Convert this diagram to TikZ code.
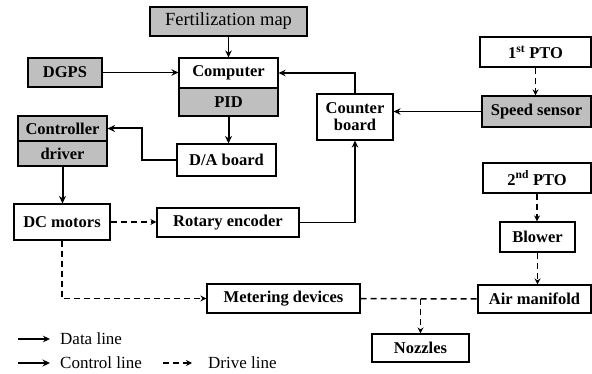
\documentclass[tikz,border=0pt]{standalone}
\usepackage{fontspec}
\setmainfont{Liberation Serif}
\usetikzlibrary{arrows.meta}
\tikzset{
	box/.style={draw, line width=1.1pt, inner sep=0pt, font=\fontsize{16.5}{17}\selectfont\bfseries, align=center},
	greybox/.style={box, fill=black!25},
	dataline/.style={line width=1.1pt, -{Stealth[length=7pt,width=6.5pt]}},
	ctrlline/.style={line width=2pt, -{Stealth[length=7.5pt,width=7pt]}},
	driveline/.style={line width=1.5pt, dash pattern=on 6pt off 4pt, -{Stealth[length=6pt,width=6pt]}},
	legtext/.style={font=\fontsize{17}{19}\selectfont, anchor=west, inner sep=0pt}
}

\begin{document}
\begin{tikzpicture}[x=1pt, y=-1pt]
		%%%%% START %%%%%
		\useasboundingbox (0, 0) rectangle (592, 374);
		
		\node[greybox, font=\fontsize{18.5}{20}\selectfont, minimum width=157pt, minimum height=29pt] (fert) at (228.5, 21.5) {Fertilization map};
		\node[box, minimum width=99pt, minimum height=30pt] (comp) at (228.5, 73) {Computer};
		\node[greybox, minimum width=99pt, minimum height=28pt] (pid) at (228.5, 102) {PID};
		\node[greybox, minimum width=74pt, minimum height=29pt] (dgps) at (65, 72.5) {DGPS};
		\node[greybox, minimum width=89pt, minimum height=25pt] (ctrl) at (62.5, 128.5) {Controller};
		\node[greybox, minimum width=89pt, minimum height=25pt] (driver) at (62.5, 153.5) {driver};
		\node[box, minimum width=99pt, minimum height=32pt] (da) at (226.5, 160) {D/A board};
		\node[box, minimum width=76pt, minimum height=46pt] (counter) at (355, 117) {Counter\\board};
		
		\node[box, minimum width=111pt, minimum height=30pt] (pto1) at (535.5, 52) {1\textsuperscript{st} PTO};
		\node[greybox, minimum width=109pt, minimum height=31pt] (speed) at (536.5, 111.5) {Speed sensor};
		\node[box, minimum width=108pt, minimum height=30pt] (pto2) at (537, 178) {2\textsuperscript{nd} PTO};
		\node[box, minimum width=75pt, minimum height=30pt] (blower) at (537.5, 237) {Blower};
		\node[box, minimum width=113pt, minimum height=28pt] (air) at (534.5, 299) {Air manifold};
		\node[box, minimum width=97pt, minimum height=28pt] (nozzles) at (420.5, 348) {Nozzles};
		
		\node[box, minimum width=96pt, minimum height=36pt] (dc) at (62, 222) {DC motors};
		\node[box, minimum width=142pt, minimum height=29pt] (rotary) at (228, 222.5) {Rotary encoder};
		\node[box, minimum width=153pt, minimum height=29pt] (meter) at (283.5, 298.5) {Metering devices};
		
		% data lines
		\draw[dataline] (fert.south) -- (comp.north);
		\draw[dataline] (dgps.east) -- (dgps.east -| comp.west);
		\draw[dataline] (counter.north) |- (comp.east);
		\draw[dataline] (speed.west) -- (speed.west -| counter.east);
		\draw[dataline] (rotary.east) -| (counter.south);
		
		% control lines
		\draw[ctrlline] (pid.south) -- (pid.south |- da.north);
		\draw[ctrlline] (da.west) -- ++(-34, 0) |- (ctrl.east);
		\draw[ctrlline] (driver.south) -- (driver.south |- dc.north);
		
		% drive lines
		\draw[driveline] (pto1.south) -- (pto1.south |- speed.north);
		\draw[driveline] (pto2.south) -- (pto2.south |- blower.north);
		\draw[driveline] (blower.south) -- (blower.south |- air.north);
		\draw[driveline] (dc.east) -- (dc.east -| rotary.west);
		\draw[driveline] (dc.south) |- (meter.west);
		\coordinate (split) at (nozzles.north |- air.west);
		\draw[driveline, -] (meter.east) -- (air.west);
		\draw[driveline] (split) -- (nozzles.north);
		
		% legend
		\coordinate (dataa) at (18, 339);
		\coordinate (datab) at (50, 339);
		\coordinate (ctrla) at (18, 363);
		\coordinate (ctrlb) at (50, 363);
		\coordinate (drivea) at (163, 363);
		\coordinate (driveb) at (192, 363);
		\draw[dataline] (dataa) -- (datab);
		\draw[ctrlline] (ctrla) -- (ctrlb);
		\draw[driveline] (drivea) -- (driveb);
		\node[legtext] (datatxt) at (60, 339) {Data line};
		\node[legtext] (ctrltxt) at (60, 363) {Control line};
		\node[legtext] (drivetxt) at (208, 363) {Drive line};
		
		%%%%% END %%%%%
	\end{tikzpicture}
\end{document}
